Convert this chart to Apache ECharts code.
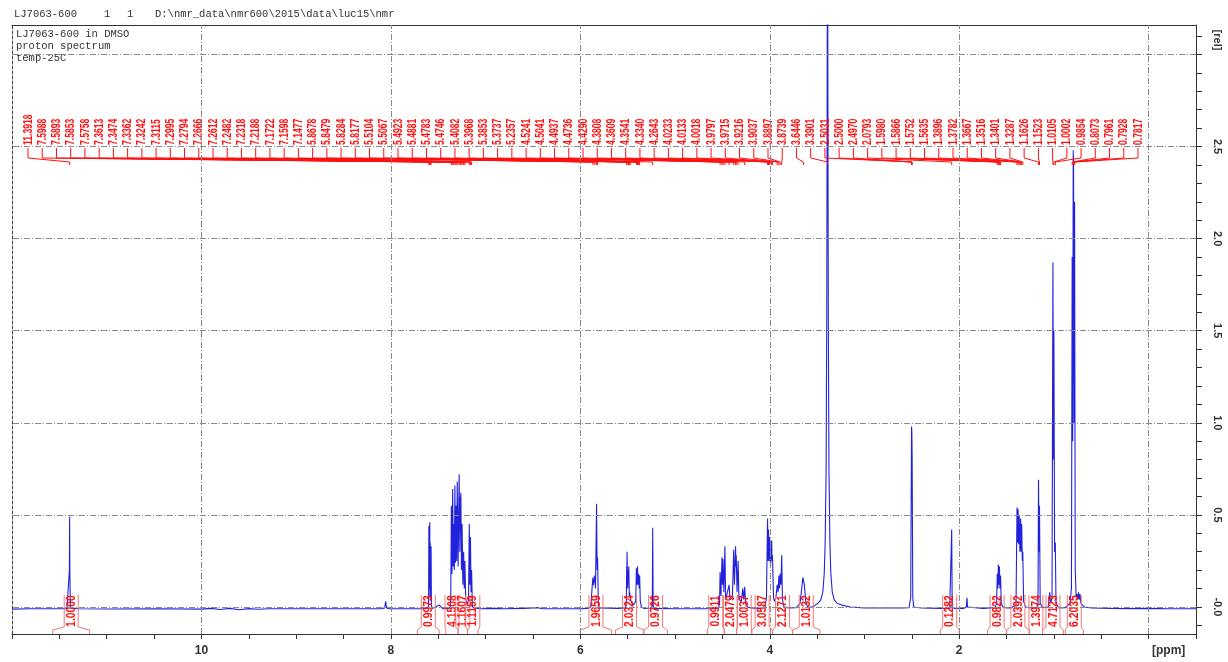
<!DOCTYPE html>
<html><head><meta charset="utf-8">
<script src="https://cdn.jsdelivr.net/npm/echarts@6/dist/echarts.min.js"></script>
<style>html,body{margin:0;padding:0;background:#fff}#c{width:1228px;height:662px}</style>
</head><body><div id="c"></div>
<script>
// ---------- data ----------
const headerParts = ['LJ7063-600', '1', '1', 'D:\\nmr_data\\nmr600\\2015\\data\\luc15\\nmr'];
const infoLines = ['LJ7063-600 in DMSO', 'proton spectrum', 'temp-25C'];
const xTickLabels = [10, 8, 6, 4, 2];
const yTickLabels = [0, 0.5, 1, 1.5, 2, 2.5];
const xGridValues = [0, 2, 4, 6, 8, 10];
const yGridValues = [0, 0.5, 1, 1.5, 2, 2.5, 3];

// spectrum points: [ppm, relative intensity]
const spectrum = [
 [12.00,-0.012],[11.80,-0.010],[11.60,-0.010],[11.42,-0.010],[11.400,-0.005],[11.394,0.20],[11.3918,0.49],[11.389,0.18],[11.383,-0.006],
 [11.30,-0.010],[11.00,-0.011],[10.50,-0.010],[10.00,-0.012],[9.90,-0.008],[9.80,-0.014],[9.70,-0.008],[9.60,-0.015],[9.50,-0.009],
 [9.40,-0.013],[9.30,-0.010],[9.00,-0.010],[8.50,-0.010],[8.10,-0.010],[8.065,-0.005],[8.055,0.03],[8.045,-0.006],[8.02,-0.010],
 [7.80,-0.010],[7.65,-0.009],[7.607,-0.006],[7.602,0.01],[7.5988,0.44],[7.596,0.05],[7.5893,0.46],[7.587,0.10],[7.5853,0.35],
 [7.580,0.04],[7.5758,0.33],[7.572,0.01],[7.565,-0.008],[7.53,0.0],[7.49,0.01],[7.45,-0.01],[7.40,-0.008],
 [7.375,-0.005],[7.368,0.04],[7.3613,0.55],[7.355,0.18],[7.3474,0.64],[7.342,0.22],[7.3362,0.45],[7.330,0.20],[7.3242,0.66],
 [7.318,0.24],[7.3115,0.55],[7.305,0.25],[7.2995,0.68],[7.290,0.22],[7.2794,0.72],[7.272,0.30],[7.2666,0.60],[7.264,0.45],
 [7.2612,0.62],[7.255,0.20],[7.2482,0.45],[7.240,0.12],[7.2318,0.30],[7.225,0.10],[7.2188,0.25],[7.210,0.04],[7.195,0.01],
 [7.180,0.04],[7.1722,0.45],[7.166,0.12],[7.1598,0.38],[7.154,0.08],[7.1477,0.20],[7.140,0.01],[7.13,-0.006],[7.05,-0.010],
 [6.90,-0.008],[6.80,-0.010],[6.60,-0.008],[6.45,-0.004],[6.40,-0.010],[6.20,-0.010],[6.00,-0.010],[5.92,-0.008],[5.89,0.0],
 [5.875,0.01],[5.8678,0.16],[5.862,0.12],[5.8479,0.17],[5.840,0.10],[5.8284,0.56],[5.823,0.20],[5.8177,0.27],[5.810,0.02],
 [5.80,-0.005],[5.60,-0.008],[5.52,-0.005],[5.515,0.02],[5.5104,0.22],[5.5085,0.18],[5.5067,0.30],[5.500,0.10],[5.4923,0.20],
 [5.490,0.15],[5.4881,0.22],[5.483,0.06],[5.4783,0.08],[5.4765,0.06],[5.4746,0.07],[5.465,0.03],[5.44,0.01],[5.415,0.03],
 [5.4082,0.21],[5.402,0.12],[5.3968,0.22],[5.391,0.12],[5.3853,0.18],[5.379,0.10],[5.3737,0.17],[5.367,0.03],[5.355,0.0],
 [5.33,-0.008],[5.25,-0.006],[5.240,0.01],[5.2357,0.43],[5.231,0.01],[5.22,-0.008],[5.00,-0.010],[4.80,-0.010],[4.60,-0.009],
 [4.54,-0.005],[4.530,0.02],[4.5241,0.19],[4.515,0.06],[4.5041,0.27],[4.499,0.12],[4.4937,0.26],[4.484,0.08],[4.4736,0.33],
 [4.466,0.04],[4.445,0.03],[4.4290,0.12],[4.420,0.04],[4.395,0.05],[4.3808,0.31],[4.373,0.12],[4.3609,0.33],[4.3575,0.22],
 [4.3541,0.28],[4.345,0.08],[4.3340,0.25],[4.325,0.04],[4.300,0.03],[4.285,0.10],[4.275,0.04],[4.2643,0.11],[4.255,0.02],
 [4.235,0.0],[4.20,-0.005],[4.10,-0.008],[4.05,0.0],[4.035,0.05],[4.0233,0.48],[4.018,0.25],[4.0133,0.42],[4.008,0.25],
 [4.0018,0.38],[3.992,0.22],[3.9797,0.36],[3.976,0.25],[3.9715,0.28],[3.960,0.05],[3.950,0.03],[3.935,0.05],[3.9216,0.12],
 [3.912,0.08],[3.9037,0.17],[3.897,0.10],[3.8897,0.18],[3.882,0.12],[3.8739,0.28],[3.866,0.04],[3.850,0.0],[3.80,-0.005],
 [3.72,-0.004],[3.68,0.02],[3.665,0.09],[3.650,0.16],[3.6446,0.165],[3.635,0.12],[3.62,0.03],[3.60,0.0],[3.55,0.0],[3.52,0.01],
 [3.49,0.02],[3.46,0.04],[3.44,0.08],[3.425,0.18],[3.415,0.35],[3.405,0.75],[3.398,1.6],[3.3901,4.0],[3.382,1.6],[3.375,0.75],
 [3.365,0.35],[3.355,0.18],[3.34,0.08],[3.32,0.04],[3.29,0.02],[3.24,0.01],[3.15,0.0],[3.00,-0.005],[2.80,-0.006],[2.60,-0.006],
 [2.53,-0.004],[2.520,0.0],[2.512,0.05],[2.5031,0.98],[2.5000,0.95],[2.4970,0.82],[2.490,0.05],[2.480,0.0],[2.40,-0.006],
 [2.20,-0.008],[2.10,-0.008],[2.085,0.0],[2.0793,0.42],[2.074,0.0],[2.05,-0.008],[1.95,-0.008],[1.925,0.0],[1.918,0.05],
 [1.912,0.0],[1.90,-0.008],[1.75,-0.008],[1.62,-0.004],[1.605,0.02],[1.5980,0.18],[1.592,0.10],[1.5866,0.23],[1.581,0.12],
 [1.5752,0.22],[1.570,0.10],[1.5635,0.17],[1.556,0.02],[1.54,0.0],[1.50,-0.005],[1.45,-0.005],[1.40,0.01],[1.3896,0.54],
 [1.384,0.35],[1.3782,0.53],[1.372,0.34],[1.3667,0.50],[1.359,0.30],[1.3516,0.48],[1.346,0.30],[1.3401,0.45],[1.334,0.25],
 [1.3287,0.30],[1.320,0.03],[1.30,0.0],[1.25,-0.005],[1.18,-0.004],[1.168,0.02],[1.1626,0.69],[1.157,0.30],[1.1523,0.55],
 [1.145,0.02],[1.12,-0.004],[1.06,0.0],[1.045,0.08],[1.035,0.02],[1.020,0.05],[1.0105,1.87],[1.0055,0.80],[1.0002,1.50],
 [0.993,0.30],[0.9854,0.35],[0.978,0.02],[0.95,-0.005],[0.88,-0.004],[0.83,0.02],[0.815,0.10],[0.8073,1.90],[0.802,0.90],
 [0.7961,2.48],[0.7945,2.20],[0.7928,2.45],[0.788,1.00],[0.7817,2.20],[0.775,0.20],[0.765,0.05],[0.755,0.07],[0.748,0.04],
 [0.740,0.08],[0.733,0.04],[0.725,0.07],[0.715,0.02],[0.70,0.03],[0.68,0.0],[0.60,-0.006],[0.40,-0.008],[0.20,-0.009],
 [0.00,-0.008],[-0.20,-0.010],[-0.50,-0.010]
];

// picked peak labels (ppm)
const peakLabels = ['11.3918','7.5988','7.5893','7.5853','7.5758','7.3613','7.3474','7.3362','7.3242','7.3115','7.2995','7.2794',
 '7.2666','7.2612','7.2482','7.2318','7.2188','7.1722','7.1598','7.1477','5.8678','5.8479','5.8284','5.8177','5.5104','5.5067',
 '5.4923','5.4881','5.4783','5.4746','5.4082','5.3968','5.3853','5.3737','5.2357','4.5241','4.5041','4.4937','4.4736','4.4290',
 '4.3808','4.3609','4.3541','4.3340','4.2643','4.0233','4.0133','4.0018','3.9797','3.9715','3.9216','3.9037','3.8897','3.8739',
 '3.6446','3.3901','2.5031','2.5000','2.4970','2.0793','1.5980','1.5866','1.5752','1.5635','1.3896','1.3782','1.3667','1.3516',
 '1.3401','1.3287','1.1626','1.1523','1.0105','1.0002','0.9854','0.8073','0.7961','0.7928','0.7817'];

// integrals: value, region start (ppm), region end (ppm)
const integralValues = ['1.0000','0.9973','4.1508','1.1607','1.1159','1.9659','2.0324','0.9726','0.9911','2.0479','1.0037',
 '3.0587','2.1271','1.0132','0.1282','0.9822','2.0392','1.3974','4.7123','6.2035'];
const integralFrom = [11.57,7.72,7.42,7.29,7.19,6.00,5.63,5.33,4.66,4.48,4.35,4.19,3.97,3.76,2.20,1.70,1.50,1.26,1.12,0.88];
const integralTo   = [11.18,7.49,7.29,7.19,7.08,5.67,5.33,5.08,4.48,4.35,4.19,3.97,3.76,3.47,2.00,1.50,1.26,1.12,0.90,0.69];

// ---------- chart ----------
const chart = echarts.init(document.getElementById('c'), null, {renderer: 'canvas'});
const X_MIN = -0.5, X_MAX = 12, Y_MIN = -0.147, Y_MAX = 3.16;
const yTickValues = [];
for (let k = -1; k <= 31; k++) yTickValues.push(+(k / 10).toFixed(1));

const RED = '#ff1010';
const labelFont = 'bold 13px "Liberation Sans", Arial, sans-serif';
const gridStyle = {color: '#8a8a8a', width: 1, type: [6, 2, 1, 2]};

const graphics = [];
const headerX = [14, 104, 127, 155];
headerParts.forEach((t, i) => graphics.push({type: 'text', left: headerX[i], top: 9,
  style: {text: t, font: '10.5px "Liberation Mono", "Courier New", monospace', fill: '#333'}}));
infoLines.forEach((t, i) => graphics.push({type: 'text', left: 16, top: 29 + i * 12,
  style: {text: t, font: '10.5px "Liberation Mono", "Courier New", monospace', fill: '#333'}}));
graphics.push({type: 'text', left: 1152, top: 645,
  style: {text: '[ppm]', font: 'bold 12px "Liberation Sans", Arial, sans-serif', fill: '#333'}});
graphics.push({type: 'text', x: 1217, y: 40, rotation: -Math.PI / 2,
  style: {text: '[rel]', font: 'bold 11px "Liberation Sans", Arial, sans-serif', fill: '#333', align: 'center', verticalAlign: 'middle'}});

const option = {
  animation: false,
  backgroundColor: '#fff',
  grid: {left: 12, top: 25, width: 1184, height: 609, containLabel: false},
  graphic: graphics,
  xAxis: [{
    type: 'value', inverse: true, min: X_MIN, max: X_MAX, interval: 0.5,
    axisLine: {show: true, onZero: false, lineStyle: {color: '#333'}},
    axisTick: {show: true, length: 5, lineStyle: {color: '#333'}},
    axisLabel: {margin: 11, color: '#333', fontWeight: 'bold', fontSize: 12, fontFamily: '"Liberation Sans", Arial, sans-serif',
      formatter: v => xTickLabels.indexOf(v) >= 0 ? String(v) : ''},
    splitLine: {show: false}
  }, {
    type: 'value', position: 'top', inverse: true, min: X_MIN, max: X_MAX,
    axisLine: {show: true, onZero: false, lineStyle: {color: '#333'}},
    axisTick: {show: false}, axisLabel: {show: false}, splitLine: {show: false}
  }],
  yAxis: [{
    type: 'value', position: 'right', min: Y_MIN, max: Y_MAX,
    axisLine: {show: true, onZero: false, lineStyle: {color: '#333'}},
    axisTick: {show: true, length: 6, customValues: yTickValues, lineStyle: {color: '#333'}},
    axisLabel: {customValues: yTickLabels, rotate: -90, margin: 21, align: 'center', verticalAlign: 'middle',
      color: '#333', fontWeight: 'bold', fontSize: 11, fontFamily: '"Liberation Sans", Arial, sans-serif',
      formatter: v => (Math.abs(v) < 1e-9 ? '-0.0' : Number(v).toFixed(1))},
    splitLine: {show: false}
  }, {
    type: 'value', position: 'left', min: Y_MIN, max: Y_MAX,
    axisLine: {show: true, onZero: false, lineStyle: {color: '#444', type: [3, 2]}},
    axisTick: {show: false}, axisLabel: {show: false}, splitLine: {show: false}
  }],
  series: [
    {
      name: 'grid', type: 'line', data: [], z: 1, silent: true,
      markLine: {
        silent: true, symbol: ['none', 'none'], label: {show: false}, animation: false,
        lineStyle: gridStyle,
        data: yGridValues.map(v => ({yAxis: v})).concat(xGridValues.map(v => ({xAxis: v})))
      }
    },
    {
      name: 'spectrum', type: 'line', data: spectrum, showSymbol: false, symbol: 'none', z: 2,
      lineStyle: {color: '#2222dd', width: 1.1}, clip: true, sampling: null
    },
    {
      name: 'peaks', type: 'custom', z: 3, silent: true,
      data: peakLabels.map((p, i) => [parseFloat(p), 0, i]),
      renderItem: function (params, api) {
        const cs = params.coordSys;
        const i = api.value(2);
        const n = peakLabels.length;
        const x0 = cs.x + 16, x1 = cs.x + cs.width - 58;
        const lx = x0 + (x1 - x0) * i / (n - 1);
        const px = api.coord([api.value(0), 0])[0];
        const t = cs.y;
        return {
          type: 'group', children: [
            {type: 'polyline', shape: {points: [[lx, t + 123], [lx, t + 133], [px, t + 137], [px, t + 140]]},
              style: {stroke: RED, fill: null, lineWidth: 1}},
            {type: 'text', x: lx, y: t + 120, rotation: Math.PI / 2, scaleX: 0.66,
              style: {text: peakLabels[i], fill: RED, font: labelFont, align: 'left', verticalAlign: 'middle'}}
          ]
        };
      }
    },
    {
      name: 'integrals', type: 'custom', z: 3, silent: true,
      data: integralValues.map((v, i) => [integralFrom[i], integralTo[i], i]),
      renderItem: function (params, api) {
        const cs = params.coordSys;
        const i = api.value(2);
        const xa = api.coord([api.value(0), 0])[0];
        const xb = api.coord([api.value(1), 0])[0];
        const cx = (xa + xb) / 2, hw = 7;
        const b = cs.y + cs.height;
        const st = {stroke: '#f07878', fill: null, lineWidth: 1};
        return {
          type: 'group', children: [
            {type: 'polyline', shape: {points: [[xa, b], [xa, b - 4], [cx - hw, b - 7], [cx - hw, b - 39]]}, style: st},
            {type: 'polyline', shape: {points: [[xb, b], [xb, b - 4], [cx + hw, b - 7], [cx + hw, b - 39]]}, style: st},
            {type: 'text', x: cx, y: b - 23, rotation: Math.PI / 2, scaleX: 0.8,
              style: {text: integralValues[i], fill: RED, font: 'bold 13px "Liberation Sans", Arial, sans-serif',
                align: 'center', verticalAlign: 'middle'}}
          ]
        };
      }
    }
  ]
};
chart.setOption(option);
</script>
</body></html>
